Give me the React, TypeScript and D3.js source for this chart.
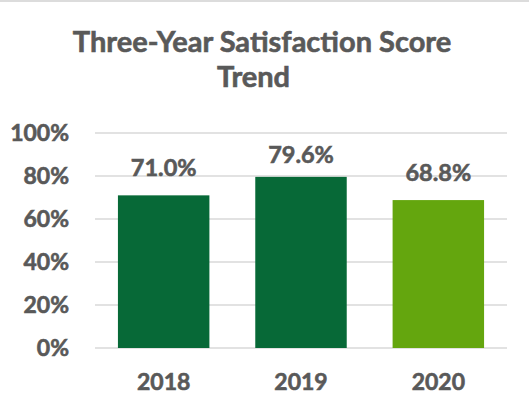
import React from "react";
import * as d3 from "d3";

const categories: string[] = ["2018", "2019", "2020"];
const values: number[] = [0.71, 0.796, 0.688];
const valueLabels: string[] = ["71.0%", "79.6%", "68.8%"];
const barColors: string[] = ["#076937", "#076937", "#64A60E"];
const yTicks: number[] = [0, 0.2, 0.4, 0.6, 0.8, 1.0];
const titleLines: string[] = ["Three-Year Satisfaction Score", "Trend"];

const W = 529;
const H = 406;
const FONT = "Lato, 'Open Sans', sans-serif";
const TEXT = "#595959";

const textStyle = {
  fontFamily: FONT,
  fontWeight: 700 as const,
  fill: TEXT,
  stroke: TEXT,
  strokeWidth: 0.6,
};

export default function App() {
  const x = d3
    .scaleBand<string>()
    .domain(categories)
    .range([95, 507])
    .paddingInner(0.334)
    .paddingOuter(0.167);
  const y = d3.scaleLinear().domain([0, 1]).range([348, 133]);
  const fmt = d3.format(".0%");

  return (
    <svg
      width={W}
      height={H}
      style={{ position: "absolute", left: 0, top: 0, background: "#fff" }}
    >
      <rect x={0} y={0} width={W} height={H} fill="#ffffff" />
      <rect x={0} y={0} width={W} height={2} fill="#DCDCDC" />
      <text x={262} y={52} textAnchor="middle" fontSize={29} style={textStyle}>
        {titleLines[0]}
      </text>
      <text x={253.5} y={87} textAnchor="middle" fontSize={29} style={textStyle}>
        {titleLines[1]}
      </text>
      {yTicks.map((t) => (
        <g key={t}>
          <line
            x1={95}
            x2={507}
            y1={y(t)}
            y2={y(t)}
            stroke="#D9D9D9"
            strokeWidth={1.5}
          />
          <text
            x={69}
            y={y(t) + 8}
            textAnchor="end"
            fontSize={23}
            style={textStyle}
          >
            {fmt(t)}
          </text>
        </g>
      ))}
      {categories.map((c, i) => {
        const bx = x(c) as number;
        const top = y(values[i]);
        const labelY = Math.max(top - 19, 162.7);
        return (
          <g key={c}>
            <rect
              x={bx}
              y={top}
              width={x.bandwidth()}
              height={y(0) - top}
              fill={barColors[i]}
            />
            <text
              x={bx + x.bandwidth() / 2}
              y={labelY}
              textAnchor="middle"
              fontSize={23.5}
              style={textStyle}
            >
              {valueLabels[i]}
            </text>
            <text
              x={bx + x.bandwidth() / 2}
              y={390}
              textAnchor="middle"
              fontSize={23}
              style={textStyle}
            >
              {c}
            </text>
          </g>
        );
      })}
    </svg>
  );
}
